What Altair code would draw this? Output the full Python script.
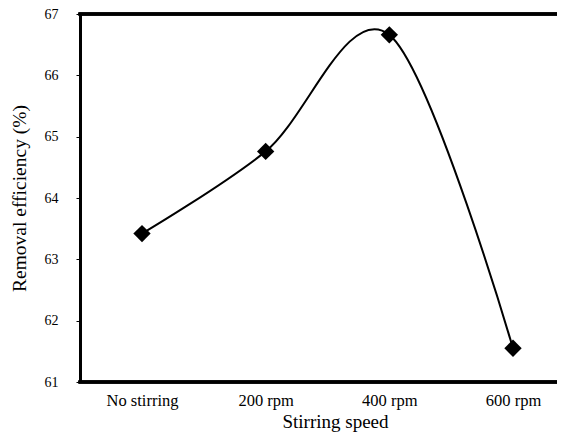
import altair as alt
import pandas as pd

categories = ["No stirring", "200 rpm", "400 rpm", "600 rpm"]
efficiency = [63.42, 64.76, 66.66, 61.55]
y_ticks = [61, 62, 63, 64, 65, 66, 67]

df = pd.DataFrame({"speed": categories, "eff": efficiency})

FONT = "Liberation Serif"
W, H = 477, 368

x_enc = alt.X(
    "speed:N",
    sort=categories,
    scale=alt.Scale(type="point", range=[62, 433], padding=0),
    axis=alt.Axis(
        title="Stirring speed",
        labelAngle=0,
        ticks=False,
        domain=False,
        labelPadding=10,
        labelFontSize=16.5,
        titleFontSize=19,
        titleFontWeight="normal",
        titlePadding=4,
        titleX=255,
        labelColor="black",
        titleColor="black",
        labelFont=FONT,
        titleFont=FONT,
        grid=False,
    ),
)
y_enc = alt.Y(
    "eff:Q",
    scale=alt.Scale(domain=[61, 67], nice=False, zero=False),
    axis=alt.Axis(
        title="Removal efficiency (%)",
        values=y_ticks,
        format="d",
        tickSize=4,
        tickWidth=1,
        tickColor="black",
        labelPadding=18,
        labelFontSize=14,
        titleFontSize=19.5,
        titleFontWeight="normal",
        titlePadding=15,
        domainWidth=3,
        domainColor="black",
        labelColor="black",
        titleColor="black",
        labelFont=FONT,
        titleFont=FONT,
        grid=False,
    ),
)

base = alt.Chart(df)
line = base.mark_line(color="black", strokeWidth=2, interpolate="cardinal").encode(x=x_enc, y=y_enc)
pts = base.mark_point(shape="diamond", filled=True, color="black", size=300, opacity=1).encode(x=x_enc, y=y_enc)
top = base.mark_rule(color="black", strokeWidth=3).encode(
    x=alt.value(-1.5), x2=alt.value(W), y=alt.value(0)
)
bottom = base.mark_rule(color="black", strokeWidth=3).encode(
    x=alt.value(-1.5), x2=alt.value(W), y=alt.value(H)
)

chart = (
    alt.layer(line, pts, top, bottom)
    .properties(
        width=W,
        height=H,
        autosize=alt.AutoSizeParams(type="none"),
        padding={"left": 72, "top": 6, "right": 0, "bottom": 52},
        background="white",
    )
    .configure_view(stroke=None)
)

chart.save("out.html", embed_options={"renderer": "svg", "actions": False})
